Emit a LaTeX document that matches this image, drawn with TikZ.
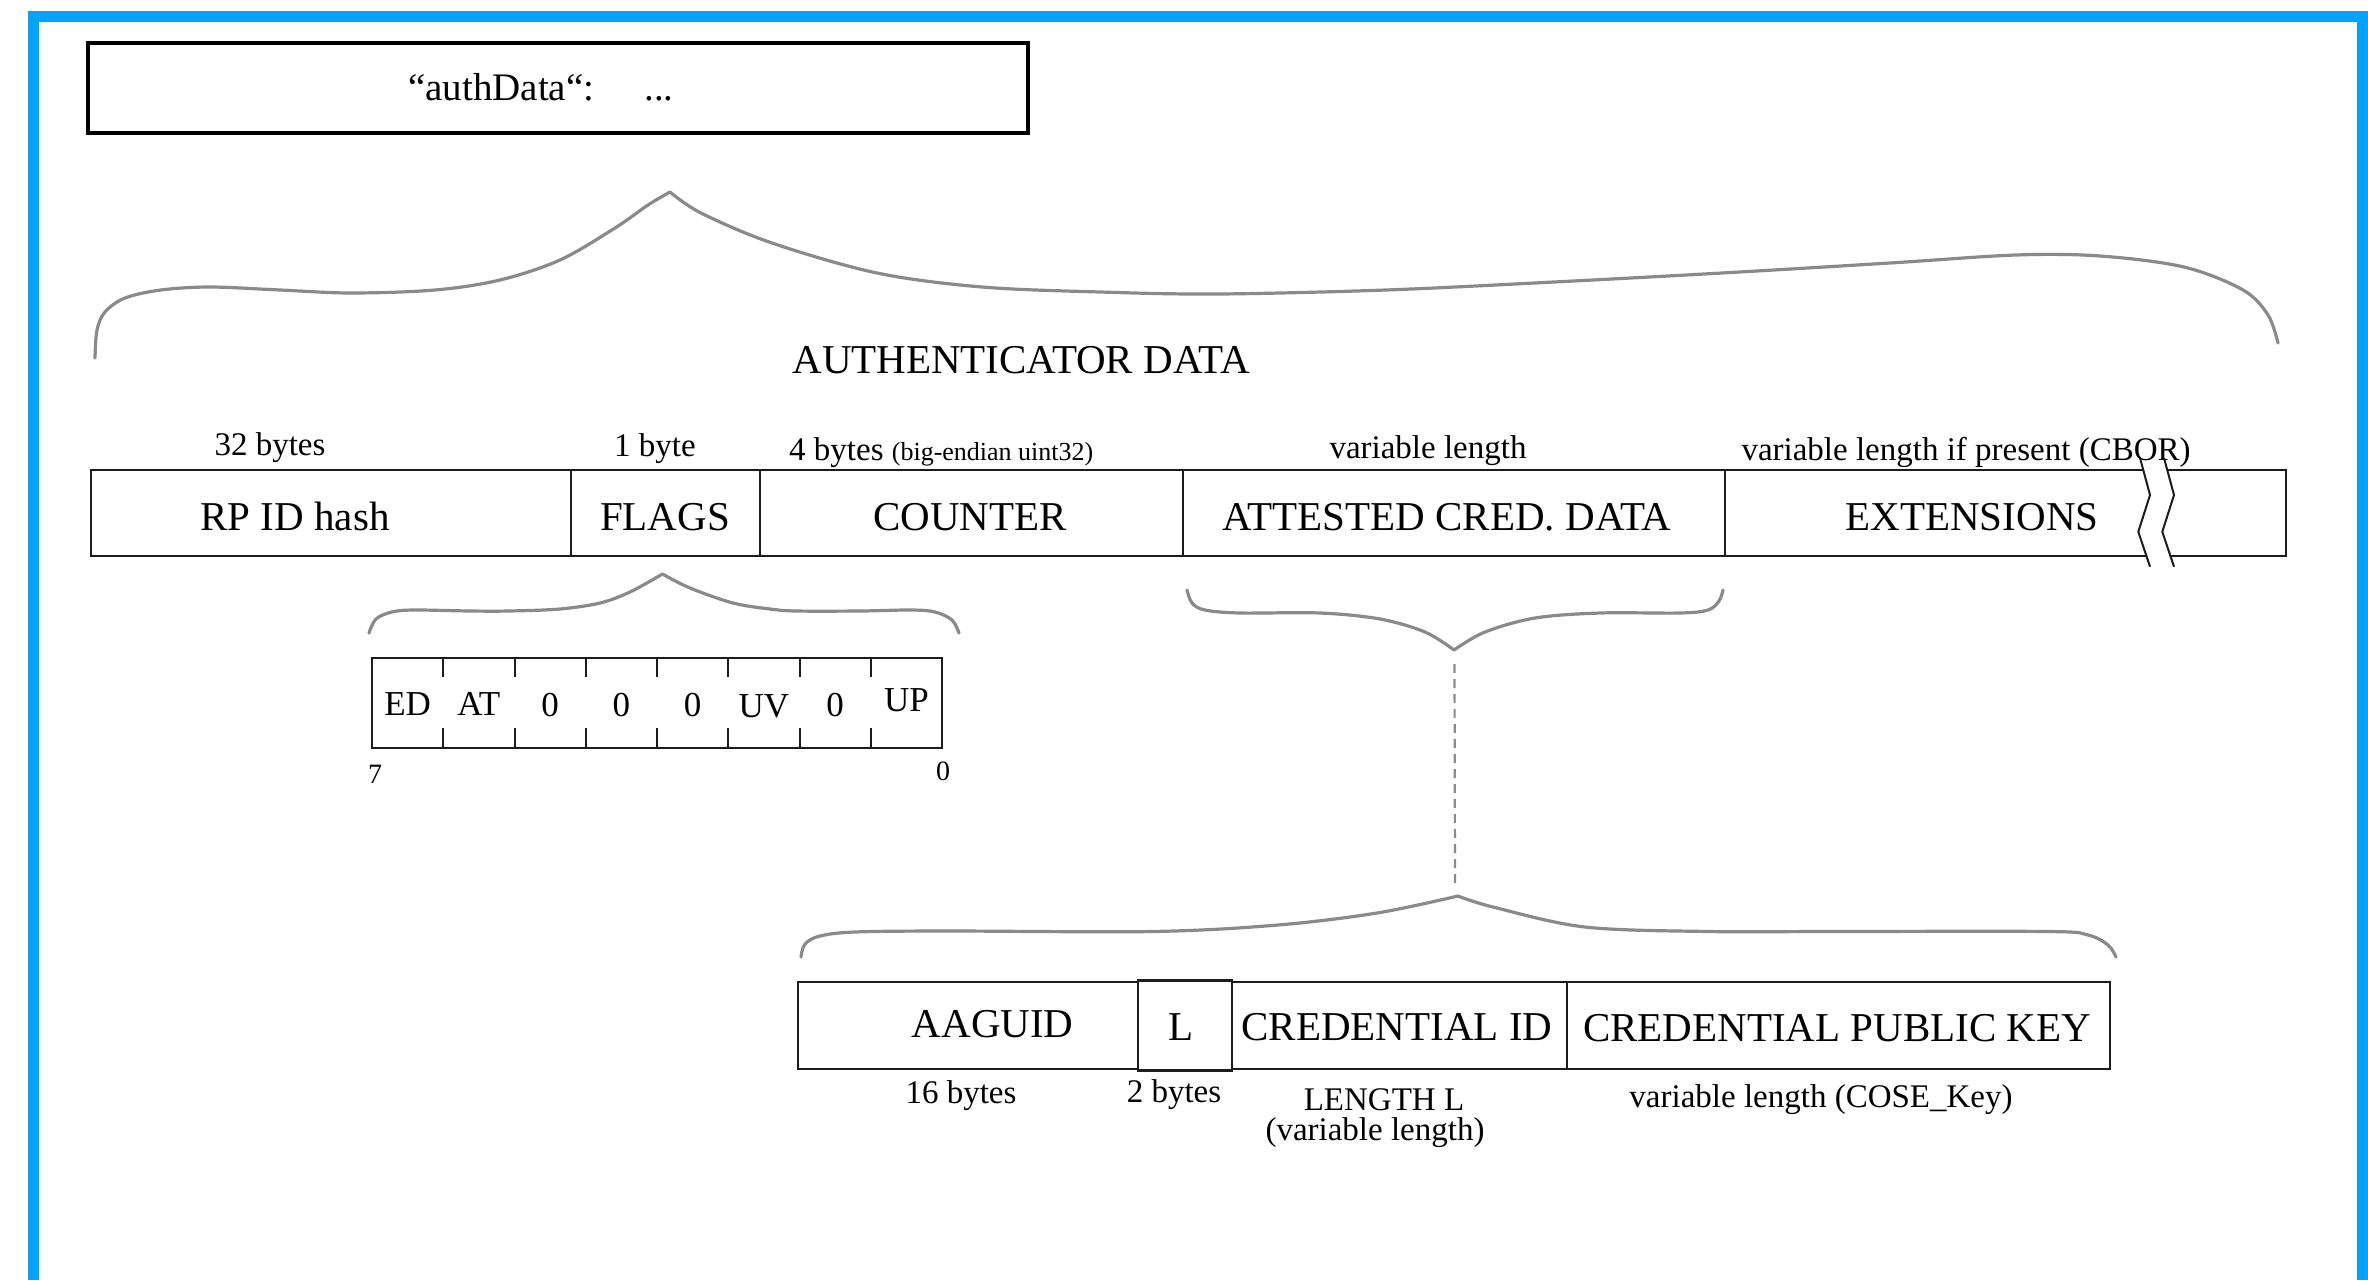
\documentclass[tikz,border=0pt]{standalone}
\usepackage{fontspec}
\setmainfont{Liberation Serif}
\definecolor{framebl}{RGB}{0,163,255}
\definecolor{bracegray}{RGB}{138,138,138}
\definecolor{ink}{RGB}{28,28,28}
\begin{document}
\begin{tikzpicture}[x=1pt,y=-1pt,
  cell/.style={draw=ink, line width=2.2pt, inner sep=0pt, outer sep=0pt},
  boxlbl/.style={anchor=base, inner sep=0pt, font=\fontsize{41}{45}\selectfont},
  note/.style={anchor=base, inner sep=0pt, font=\fontsize{33}{37}\selectfont},
  bitlbl/.style={anchor=base, inner sep=0pt, font=\fontsize{35}{39}\selectfont},
  bitnum/.style={anchor=base, inner sep=0pt, font=\fontsize{28}{31}\selectfont},
  brace/.style={draw=bracegray, line width=3.2pt, line cap=round, line join=round},
  tick/.style={draw=ink, line width=2pt},
  zig/.style={draw=ink, line width=2pt, line join=miter},
  dashline/.style={draw=bracegray, line width=2.2pt, dash pattern=on 9pt off 6pt}]

\useasboundingbox (0,0) rectangle (2368,1280);

% blue frame
\fill[framebl] (28,11) rectangle (2368,22);
\fill[framebl] (28,11) rectangle (39,1280);
\fill[framebl] (2357,11) rectangle (2368,1280);

% JSON field box
\node[draw=black, line width=4pt, inner sep=0pt, minimum width=940pt, minimum height=90.6pt] (json) at (557.7,88) {};
\node[anchor=base west, inner sep=0pt, font=\fontsize{39}{43}\selectfont] (jsontxt) at (408,100) {“authData“:\hspace{50pt}...};

% brace from the JSON field to the authenticator data
\draw[brace] plot[smooth, tension=0.55] coordinates {(95,358) (97,330) (105,312) (125,298) (161,290) (210,287) (280,290) (351,293) (435,290) (500,280) (560,260) (615,228) (648,205) (670,192)};
\draw[brace] plot[smooth, tension=0.55] coordinates {(670,192) (701,213) (772,243) (877,273) (982,287) (1100,292) (1218,294) (1386,290) (1554,282) (1722,273) (1890,263) (2016,255) (2100,256) (2184,267) (2243,290) (2268,315) (2278,343)};

\node[boxlbl] (title) at (1021,373) {AUTHENTICATOR DATA};

% authenticator data fields
\node[cell, minimum width=480.4pt, minimum height=86pt] (rpid) at (330.8,513) {};
\node[cell, minimum width=189pt, minimum height=86pt] (flags) at (665.5,513) {};
\node[cell, minimum width=423pt, minimum height=86pt] (counter) at (971.5,513) {};
\node[cell, minimum width=542pt, minimum height=86pt] (attested) at (1454,513) {};
\node[cell, minimum width=561pt, minimum height=86pt] (ext) at (2005.5,513) {};

\node[boxlbl] (rpidtxt) at (295,530) {RP ID hash};
\node[boxlbl] (flagstxt) at (665,530) {FLAGS};
\node[boxlbl] (countertxt) at (970,530) {COUNTER};
\node[boxlbl] (attestedtxt) at (1447,530) {ATTESTED CRED. DATA};
\node[boxlbl] (exttxt) at (1972,530) {EXTENSIONS};

\node[note] (sz1) at (270,455) {32 bytes};
\node[note] (sz2) at (655,456) {1 byte};
\node[note, anchor=base west] (sz3) at (789,460) {4 bytes {\fontsize{26}{29}\selectfont(big-endian uint32)}};
\node[note] (sz4) at (1428,458) {variable length};
\node[note] (sz5) at (1966,460) {variable length if present (CBOR)};

% break mark on the extensions field
\fill[white] (2141.6,464) -- (2150,495) -- (2138.3,531.7) -- (2148.4,562) -- (2172.4,562) -- (2162.3,531.7) -- (2174,495) -- (2165.6,464) -- cycle;
\draw[zig] (2140,458) -- (2150,495) -- (2138.3,531.7) -- (2150,566.7);
\draw[zig] (2164,458) -- (2174,495) -- (2162.3,531.7) -- (2174,566.7);

% flags byte
\draw[brace] plot[smooth, tension=0.55] coordinates {(369,633) (376,619) (392,612) (414,610) (470,611) (509,611) (560,609) (600,603) (630,592) (662.5,574)};
\draw[brace] plot[smooth, tension=0.55] coordinates {(662.5,574) (690,588) (733,603) (770,609) (796,611) (860,611) (911,610) (935,612) (952,620) (959,633)};

\node[cell, minimum width=570pt, minimum height=90pt] (bits) at (657,703) {};
\foreach \k in {1,...,7}{
  \pgfmathsetmacro\tx{372+71.25*\k}
  \draw[tick] (\tx,658) -- (\tx,677);
  \draw[tick] (\tx,748) -- (\tx,728);
}
\foreach \t/\by [count=\i] in {ED/715,AT/715,0/716,0/716,0/716,UV/717,0/716,UP/711}{
  \pgfmathsetmacro\cx{372+71.25*(\i-0.5)}
  \node[bitlbl] (bit\i) at (\cx,\by) {\t};
}
\node[bitnum, anchor=base west] (msb) at (368,783) {7};
\node[bitnum] (lsb) at (943,780) {0};

% attested credential data
\draw[brace] plot[smooth, tension=0.55] coordinates {(1187,590) (1192,603) (1205,610) (1240,613) (1320,613) (1380,619) (1425,632) (1454,650)};
\draw[brace] plot[smooth, tension=0.55] coordinates {(1454,650) (1485,632) (1535,618) (1600,613) (1680,613) (1708,610) (1719,601) (1723,590)};

\coordinate (dashtop) at (1454.5,664);
\coordinate (dashbot) at (1455,886);
\draw[dashline] (dashtop) -- (dashbot);

\draw[brace] plot[smooth, tension=0.55] coordinates {(801,957) (805,944) (820,936) (855,932) (946,931) (1153,931.5) (1278,925) (1377,913) (1458,896)};
\draw[brace] plot[smooth, tension=0.55] coordinates {(1458,896) (1493,907) (1585,927) (1709,931.5) (1832,931.5) (2048,931.5) (2088,935) (2108,945) (2116,957)};

\node[cell, minimum width=340pt, minimum height=87.3pt] (aaguid) at (968,1025.4) {};
\node[cell, minimum width=94pt, minimum height=90pt] (lenbox) at (1185,1025.5) {};
\node[cell, minimum width=335pt, minimum height=87.3pt] (credid) at (1399.5,1025.4) {};
\node[cell, minimum width=543pt, minimum height=87.3pt] (credpk) at (1838.5,1025.4) {};

\node[boxlbl] (aaguidtxt) at (992.7,1037) {AAGUID};
\node[boxlbl] (lentxt) at (1181,1040) {L};
\node[boxlbl] (credidtxt) at (1397,1040) {CREDENTIAL ID};
\node[boxlbl] (credpktxt) at (1837,1041) {CREDENTIAL PUBLIC KEY};

\node[note] (lsz1) at (961,1103) {16 bytes};
\node[note] (lsz2) at (1174,1102) {2 bytes};
\node[note] (lsz3) at (1384,1110) {LENGTH L};
\node[note] (lsz4) at (1375,1140) {(variable length)};
\node[note] (lsz5) at (1821,1107) {variable length (COSE\_Key)};

\end{tikzpicture}
\end{document}
